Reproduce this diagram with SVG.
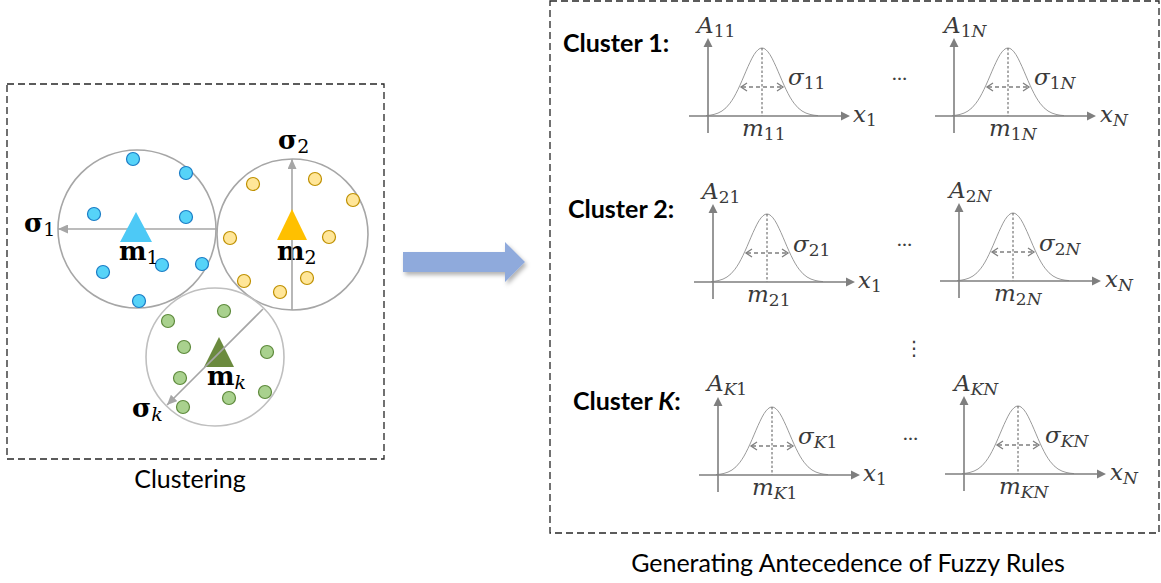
<svg xmlns="http://www.w3.org/2000/svg" width="1161" height="583" viewBox="0 0 1161 583">
  <style>
    .frame { fill: none; stroke: #262626; stroke-width: 1.3; stroke-dasharray: 7 4; }
    .caption { font-family: Lato, "Liberation Sans", sans-serif; font-size: 25px; fill: #000; }
    .clabel { font-family: Lato, "Liberation Sans", sans-serif; font-size: 25px; font-weight: bold; fill: #000; }
    .ring { fill: none; stroke: #A6A6A6; stroke-width: 1.6; }
    .ring-k { fill: none; stroke: #BFBFBF; stroke-width: 1.6; }
    .radius { stroke: #A6A6A6; stroke-width: 1.6; fill: none; }
    .dot-b { fill: #56D3F8; stroke: #1A7CC6; stroke-width: 1.2; }
    .dot-y { fill: #FFE699; stroke: #BF9000; stroke-width: 1.2; }
    .dot-g { fill: #A9D18E; stroke: #5E8A3C; stroke-width: 1.2; }
    .bold { font-family: "DejaVu Serif", "Liberation Serif", serif; font-weight: bold; font-size: 26px; fill: #000; }
    .bsub { font-size: 19px; font-weight: normal; }
    .math { font-family: "DejaVu Serif", "Liberation Serif", serif; font-size: 23px; fill: #3A3A3A; }
    .it { font-style: italic; }
    .sub { font-size: 17px; }
    .axis { stroke: #7F7F7F; stroke-width: 1.6; fill: none; }
    .head { fill: #7F7F7F; }
    .curve { stroke: #9A9A9A; stroke-width: 1; fill: none; stroke-linejoin: round; }
    .mid { stroke: #595959; stroke-width: 1; stroke-dasharray: 2.5 2; fill: none; }
    .span { stroke: #7F7F7F; stroke-width: 1.3; stroke-dasharray: 4 3; fill: none; }
    .chev { stroke: #7F7F7F; stroke-width: 1.3; fill: none; }
    .dots { font-family: Lato, "DejaVu Sans", sans-serif; font-size: 20px; fill: #404040; }
  </style>
  <defs>
    <marker id="tip" markerUnits="userSpaceOnUse" markerWidth="11" markerHeight="9" refX="10" refY="4.5" orient="auto">
      <path d="M0,0 L10,4.5 L0,9 z" fill="#A6A6A6"/>
    </marker>
    <filter id="shade" x="-10%" y="-20%" width="130%" height="160%">
      <feDropShadow dx="2" dy="3" stdDeviation="2" flood-color="#000" flood-opacity="0.3"/>
    </filter>
    <!-- membership-function plot: origin at the axes crossing -->
    <g id="bell">
      <path class="curve" d="M -2,-0.4 L 2,-0.8 L 6,-1.6 L 10,-2.9 L 14,-5 L 18,-8.2 L 22,-12.8 L 24,-15.7 L 26,-18.9 L 28,-22.6 L 30,-26.6 L 32,-30.9 L 34,-35.4 L 36,-40.1 L 38,-44.8 L 40,-49.4 L 42,-53.7 L 44,-57.8 L 46,-61.3 L 48,-64.1 L 50,-66.2 L 52,-67.6 L 54,-68 L 56,-67.6 L 58,-66.2 L 60,-64.1 L 62,-61.3 L 64,-57.8 L 66,-53.7 L 68,-49.4 L 70,-44.8 L 72,-40.1 L 74,-35.4 L 76,-30.9 L 78,-26.6 L 80,-22.6 L 82,-18.9 L 84,-15.7 L 86,-12.8 L 90,-8.2 L 94,-5 L 98,-2.9 L 102,-1.6 L 106,-0.8 L 110,-0.4"/>
      <path class="mid" d="M54,-68 V0"/>
      <path class="span" d="M34,-29 H74"/>
      <path class="chev" d="M39,-33 L33,-29 L39,-25 M69,-33 L75,-29 L69,-25"/>
      <path class="axis" d="M-19,0 H134 M0,17 V-70"/>
      <path class="head" d="M142,0 L133,-4.5 L133,4.5 z M0,-78 L-4.5,-69 L4.5,-69 z"/>
    </g>
  </defs>

  <!-- left panel: clustering -->
  <g id="clustering-panel">
    <rect class="frame" x="7" y="84" width="377" height="375"/>
    <text class="caption" x="190" y="488" text-anchor="middle">Clustering</text>
  </g>

  <g id="cluster-1">
    <circle class="ring" cx="137" cy="229" r="79"/>
    <circle class="dot-b" cx="133" cy="159" r="6.5"/>
    <circle class="dot-b" cx="186" cy="173" r="6.5"/>
    <circle class="dot-b" cx="94" cy="214" r="6.5"/>
    <circle class="dot-b" cx="186" cy="217" r="6.5"/>
    <circle class="dot-b" cx="103" cy="272" r="6.5"/>
    <circle class="dot-b" cx="162" cy="265" r="6.5"/>
    <circle class="dot-b" cx="202" cy="264" r="6.5"/>
    <circle class="dot-b" cx="139" cy="301" r="6.5"/>
    <text class="bold" x="119" y="260">m<tspan class="bsub" dy="4">1</tspan></text>
    <text class="bold" x="24" y="232">σ<tspan class="bsub" dy="4">1</tspan></text>
  </g>

  <g id="cluster-2">
    <circle class="ring" cx="292.5" cy="234.5" r="75.5"/>
    <circle class="dot-y" cx="253" cy="184" r="6.5"/>
    <circle class="dot-y" cx="315" cy="179" r="6.5"/>
    <circle class="dot-y" cx="353" cy="200" r="6.5"/>
    <circle class="dot-y" cx="230" cy="238" r="6.5"/>
    <circle class="dot-y" cx="329" cy="237" r="6.5"/>
    <circle class="dot-y" cx="244" cy="281" r="6.5"/>
    <circle class="dot-y" cx="280" cy="292" r="6.5"/>
    <circle class="dot-y" cx="307" cy="278" r="6.5"/>
    <text class="bold" x="277" y="260">m<tspan class="bsub" dy="4">2</tspan></text>
    <text class="bold" x="278" y="149">σ<tspan class="bsub" dy="4">2</tspan></text>
  </g>

  <g id="cluster-k">
    <circle class="ring-k" cx="215" cy="357" r="69"/>
    <circle class="dot-g" cx="168" cy="321" r="6.5"/>
    <circle class="dot-g" cx="224" cy="311" r="6.5"/>
    <circle class="dot-g" cx="184" cy="347" r="6.5"/>
    <circle class="dot-g" cx="267" cy="352" r="6.5"/>
    <circle class="dot-g" cx="180" cy="378" r="6.5"/>
    <circle class="dot-g" cx="265" cy="392" r="6.5"/>
    <circle class="dot-g" cx="229" cy="398" r="6.5"/>
    <circle class="dot-g" cx="183" cy="407" r="6.5"/>
    <polygon points="219,337 234,367 204,367" fill="#6B8A3E"/>
    <text class="bold" x="207" y="385">m<tspan class="bsub it" dy="4">k</tspan></text>
    <text class="bold" x="132" y="417">σ<tspan class="bsub it" dy="4">k</tspan></text>
  </g>

  <!-- radius arrows and the transition arrow -->
  <g id="connectors">
    <path class="radius" d="M217,229 H58" marker-end="url(#tip)"/>
    <path class="radius" d="M292,310 V159" marker-end="url(#tip)"/>
    <path class="radius" d="M263,309 L167,405" marker-end="url(#tip)"/>
    <polygon points="403,252 505,252 505,242 525,262 505,282 505,272 403,272" fill="#8FAADC" filter="url(#shade)"/>
  </g>

  <!-- solid centroids drawn over their radius lines -->
  <g id="centroids">
    <polygon points="136,212 152,242 120,242" fill="#4DC9F6"/>
    <polygon points="292,209 307,240 277,240" fill="#FFC000"/>
  </g>

  <!-- right panel: antecedents -->
  <g id="rules-panel">
    <rect class="frame" x="550" y="1" width="609" height="532"/>
    <text class="caption" x="848" y="572" text-anchor="middle">Generating Antecedence of Fuzzy Rules</text>
  </g>

  <g id="row-1">
    <text class="clabel" x="563" y="52">Cluster 1:</text>
    <use href="#bell" x="708" y="116"/>
    <text class="math" x="697" y="33"><tspan class="it">A</tspan><tspan class="sub" dy="4">11</tspan></text>
    <text class="math" x="788" y="85"><tspan class="it">σ</tspan><tspan class="sub" dy="4">11</tspan></text>
    <text class="math" x="853" y="122"><tspan class="it">x</tspan><tspan class="sub" dy="4">1</tspan></text>
    <text class="math" x="742" y="136"><tspan class="it">m</tspan><tspan class="sub" dy="4">11</tspan></text>
    <text class="dots" x="892" y="80">…</text>
    <use href="#bell" x="954" y="116"/>
    <text class="math" x="944" y="33"><tspan class="it">A</tspan><tspan class="sub" dy="4">1<tspan class="it">N</tspan></tspan></text>
    <text class="math" x="1034" y="85"><tspan class="it">σ</tspan><tspan class="sub" dy="4">1<tspan class="it">N</tspan></tspan></text>
    <text class="math" x="1100" y="122"><tspan class="it">x</tspan><tspan class="sub it" dy="4">N</tspan></text>
    <text class="math" x="989" y="136"><tspan class="it">m</tspan><tspan class="sub" dy="4">1<tspan class="it">N</tspan></tspan></text>
  </g>

  <g id="row-2">
    <text class="clabel" x="568" y="218">Cluster 2:</text>
    <use href="#bell" x="713" y="282"/>
    <text class="math" x="702" y="199"><tspan class="it">A</tspan><tspan class="sub" dy="4">21</tspan></text>
    <text class="math" x="793" y="252"><tspan class="it">σ</tspan><tspan class="sub" dy="4">21</tspan></text>
    <text class="math" x="858" y="288"><tspan class="it">x</tspan><tspan class="sub" dy="4">1</tspan></text>
    <text class="math" x="747" y="302"><tspan class="it">m</tspan><tspan class="sub" dy="4">21</tspan></text>
    <text class="dots" x="897" y="246">…</text>
    <use href="#bell" x="959" y="281"/>
    <text class="math" x="949" y="198"><tspan class="it">A</tspan><tspan class="sub" dy="4">2<tspan class="it">N</tspan></tspan></text>
    <text class="math" x="1039" y="251"><tspan class="it">σ</tspan><tspan class="sub" dy="4">2<tspan class="it">N</tspan></tspan></text>
    <text class="math" x="1105" y="287"><tspan class="it">x</tspan><tspan class="sub it" dy="4">N</tspan></text>
    <text class="math" x="994" y="301"><tspan class="it">m</tspan><tspan class="sub" dy="4">2<tspan class="it">N</tspan></tspan></text>
  </g>

  <text class="dots" x="904" y="355">⋮</text>

  <g id="row-k">
    <text class="clabel" x="573" y="410">Cluster <tspan font-style="italic">K</tspan>:</text>
    <use href="#bell" x="718" y="475"/>
    <text class="math" x="707" y="391"><tspan class="it">A</tspan><tspan class="sub" dy="4"><tspan class="it">K</tspan>1</tspan></text>
    <text class="math" x="798" y="444"><tspan class="it">σ</tspan><tspan class="sub" dy="4"><tspan class="it">K</tspan>1</tspan></text>
    <text class="math" x="863" y="481"><tspan class="it">x</tspan><tspan class="sub" dy="4">1</tspan></text>
    <text class="math" x="752" y="495"><tspan class="it">m</tspan><tspan class="sub" dy="4"><tspan class="it">K</tspan>1</tspan></text>
    <text class="dots" x="903" y="440">…</text>
    <use href="#bell" x="964" y="474"/>
    <text class="math" x="954" y="391"><tspan class="it">A</tspan><tspan class="sub it" dy="4">KN</tspan></text>
    <text class="math" x="1045" y="443"><tspan class="it">σ</tspan><tspan class="sub it" dy="4">KN</tspan></text>
    <text class="math" x="1110" y="480"><tspan class="it">x</tspan><tspan class="sub it" dy="4">N</tspan></text>
    <text class="math" x="999" y="494"><tspan class="it">m</tspan><tspan class="sub it" dy="4">KN</tspan></text>
  </g>
</svg>
